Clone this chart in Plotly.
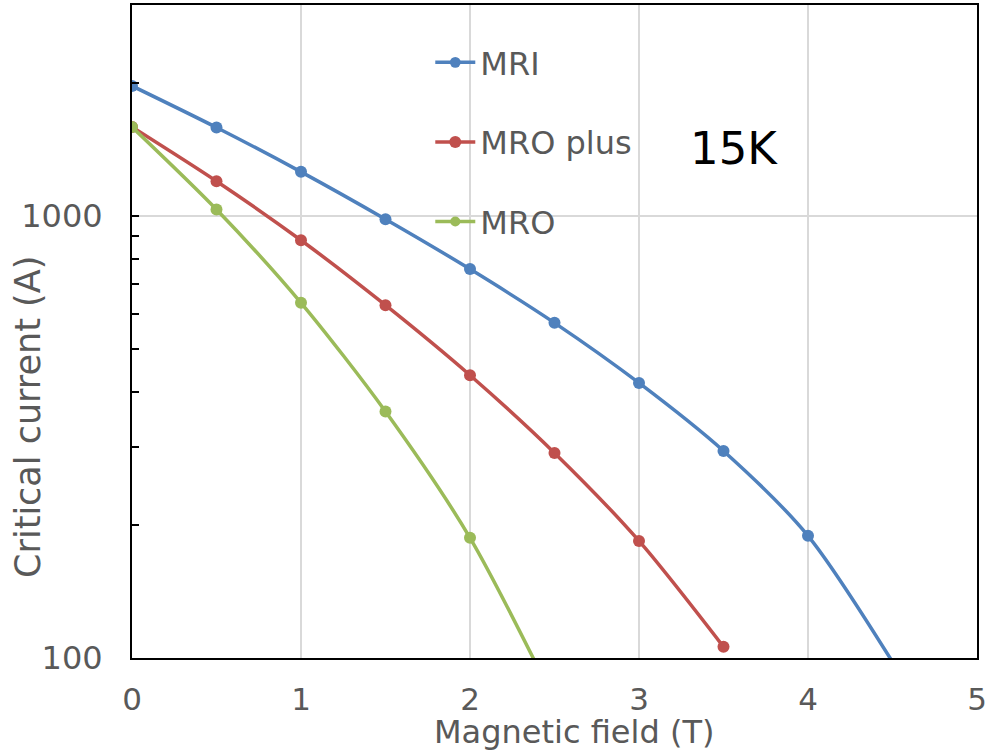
import plotly.graph_objects as go

field = [0, 0.5, 1, 1.5, 2, 2.5, 3, 3.5, 4, 4.5]
mri = [1968, 1585, 1258, 983, 758, 573, 419, 294, 189, 98]
mro_plus = [1589, 1198, 881, 628, 436, 291, 184, 106]
mro = [1589, 1034, 636, 361, 187, 80]

series = [
    ("MRI", mri, "#4F81BD"),
    ("MRO plus", mro_plus, "#C0504D"),
    ("MRO", mro, "#9BBB59"),
]

y_major = [100, 1000]
y_minor = [200, 300, 400, 500, 600, 700, 800, 900, 2000, 3000]
x_ticks = [0, 1, 2, 3, 4, 5]

FONT = "DejaVu Sans"
GRAY = "#595959"

fig = go.Figure()
for name, vals, color in series:
    xs = field[:len(vals)]
    sizes = [12 if v >= 100 else 0 for v in vals]
    fig.add_trace(go.Scatter(
        x=xs, y=vals, name=name, mode="lines+markers",
        line=dict(color=color, width=3.5, shape="spline", smoothing=0.8),
        marker=dict(color=color, size=sizes, opacity=1, line=dict(width=0)),
        legendgroup=name,
    ))

fig.update_layout(
    width=999, height=750,
    margin=dict(l=132, r=22, t=5, b=92),
    plot_bgcolor="white", paper_bgcolor="white",
    font=dict(family=FONT, color=GRAY, size=32),
    showlegend=True,
    legend=dict(
        x=0.353, y=0.954, xanchor="left", yanchor="top",
        bgcolor="rgba(0,0,0,0)", font=dict(size=32, color=GRAY, family=FONT),
        tracegroupgap=35, itemwidth=40,
    ),
    xaxis=dict(
        range=[0, 5], tickvals=x_ticks, ticks="",
        showgrid=True, gridcolor="#D9D9D9", gridwidth=1.5,
        showline=True, linecolor="black", linewidth=2, mirror=True,
        zeroline=False, tickfont=dict(size=31, color=GRAY),
        ticklabelstandoff=13, automargin=False,
    ),
    yaxis=dict(
        type="log", range=[2, 3.4771],
        tickvals=y_major, ticktext=[str(v) for v in y_major],
        ticks="inside", ticklen=7, tickcolor="black", tickwidth=2,
        showgrid=True, gridcolor="#D9D9D9", gridwidth=1.5,
        showline=True, linecolor="black", linewidth=2, mirror=True,
        zeroline=False, tickfont=dict(size=32, color=GRAY),
        ticklabelstandoff=21, automargin=False,
        minor=dict(tickvals=y_minor, ticks="inside", ticklen=7,
                   tickcolor="black", tickwidth=2, showgrid=False),
    ),
    annotations=[
        dict(text="15K", x=0.712, y=0.78, xref="paper", yref="paper",
             xanchor="center", yanchor="middle", showarrow=False,
             font=dict(size=45, color="black", family=FONT)),
        dict(text="Critical current (A)", x=-0.1225, y=0.37,
             xref="paper", yref="paper", textangle=-90,
             xanchor="center", yanchor="middle", showarrow=False,
             font=dict(size=35, color=GRAY, family=FONT)),
        dict(text="Magnetic field (T)", x=0.5225, y=-0.113,
             xref="paper", yref="paper",
             xanchor="center", yanchor="middle", showarrow=False,
             font=dict(size=32, color=GRAY, family=FONT)),
    ],
)

fig.write_html(
    "out.html",
    config={"displayModeBar": False},
    post_script="document.body.style.margin='0px';document.body.style.overflow='hidden';",
)
